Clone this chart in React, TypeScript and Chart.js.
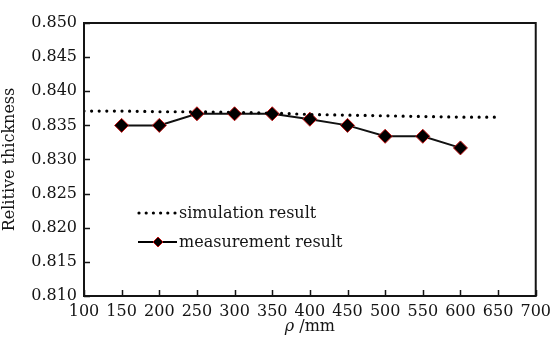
import React, { useEffect, useRef } from "react";
import { Chart, registerables } from "chart.js";

Chart.register(...registerables);

const rhoMeasure = [150, 200, 250, 300, 350, 400, 450, 500, 550, 600];
const measureValues = [0.835, 0.835, 0.8367, 0.8367, 0.8367, 0.8359, 0.835, 0.8334, 0.8334, 0.8317];
const rhoSim = [100, 150, 200, 250, 300, 350, 400, 450, 500, 550, 600, 650];
const simValues = [0.8371, 0.8371, 0.837, 0.837, 0.8369, 0.8368, 0.8366, 0.8365, 0.8364, 0.8363, 0.8362, 0.8362];
const legendLabels = ["simulation result", "measurement result"];
const xTitleSymbol = "ρ";
const xTitleUnit = " /mm";

const FONT = "'DejaVu Serif', serif";
const INK = "#141414";

const framePlugin = {
  id: "frame",
  afterDraw(chart: any) {
    const { ctx, chartArea } = chart;
    const { left, right, top, bottom } = chartArea;
    const xs = chart.scales.x;
    const ys = chart.scales.y;
    ctx.save();
    ctx.strokeStyle = INK;
    ctx.lineWidth = 2;
    ctx.strokeRect(left, top, right - left, bottom - top);
    ctx.lineWidth = 1.5;
    ctx.beginPath();
    xs.ticks.forEach((t: any) => {
      const px = Math.round(xs.getPixelForValue(t.value)) + 0.5;
      ctx.moveTo(px, bottom);
      ctx.lineTo(px, bottom - 6);
    });
    ys.ticks.forEach((t: any) => {
      const py = Math.round(ys.getPixelForValue(t.value)) + 0.5;
      ctx.moveTo(left, py);
      ctx.lineTo(left + 6, py);
    });
    ctx.stroke();

    // x title with italic rho
    ctx.fillStyle = INK;
    ctx.textBaseline = "middle";
    ctx.font = `italic 16px ${FONT}`;
    const w1 = ctx.measureText(xTitleSymbol).width;
    ctx.font = `16px ${FONT}`;
    const w2 = ctx.measureText(xTitleUnit).width;
    const cx = (left + right) / 2;
    const ty = 327;
    const sx = cx - (w1 + w2) / 2;
    ctx.font = `italic 16px ${FONT}`;
    ctx.fillText(xTitleSymbol, sx, ty);
    ctx.font = `16px ${FONT}`;
    ctx.fillText(xTitleUnit, sx + w1, ty);

    // legend
    const ds = chart.data.datasets;
    ctx.font = `16px ${FONT}`;
    ctx.fillStyle = INK;
    const y1 = 213;
    ctx.strokeStyle = "#000";
    ctx.lineWidth = 3.2;
    ctx.lineCap = "round";
    ctx.setLineDash([0, 7.2]);
    ctx.beginPath();
    ctx.moveTo(139, y1);
    ctx.lineTo(175, y1);
    ctx.stroke();
    ctx.setLineDash([]);
    ctx.lineCap = "butt";
    ctx.fillText(ds[0].label, 179, y1 + 1);
    const y2 = 242;
    ctx.lineWidth = 2;
    ctx.beginPath();
    ctx.moveTo(138, y2);
    ctx.lineTo(177, y2);
    ctx.stroke();
    const r = 5;
    ctx.beginPath();
    ctx.moveTo(158, y2 - r);
    ctx.lineTo(158 + r, y2);
    ctx.lineTo(158, y2 + r);
    ctx.lineTo(158 - r, y2);
    ctx.closePath();
    ctx.fillStyle = "#000";
    ctx.fill();
    ctx.strokeStyle = "#c01010";
    ctx.lineWidth = 1;
    ctx.stroke();
    ctx.fillStyle = INK;
    ctx.fillText(ds[1].label, 179, y2 + 1);
    ctx.restore();
  },
};

export default function App() {
  const ref = useRef<HTMLCanvasElement | null>(null);
  useEffect(() => {
    document.body.style.margin = "0";
    const canvas = ref.current;
    if (!canvas) return;
    const chart = new Chart(canvas, {
      type: "line",
      data: {
        datasets: [
          {
            label: legendLabels[0],
            data: rhoSim.map((x, i) => ({ x, y: simValues[i] })),
            borderColor: "#000",
            borderWidth: 3.2,
            borderDash: [0, 7.6],
            borderCapStyle: "round",
            pointRadius: 0,
            fill: false,
          },
          {
            label: legendLabels[1],
            data: rhoMeasure.map((x, i) => ({ x, y: measureValues[i] })),
            borderColor: "#111",
            borderWidth: 2,
            pointStyle: "rectRot",
            pointRadius: 7,
            pointBackgroundColor: "#000",
            pointBorderColor: "#c01010",
            pointBorderWidth: 1,
            fill: false,
          },
        ],
      },
      options: {
        animation: false,
        responsive: false,
        maintainAspectRatio: false,
        layout: { padding: { top: 23, right: 15, left: 0, bottom: 0 } },
        plugins: { legend: { display: false }, tooltip: { enabled: false } },
        scales: {
          x: {
            type: "linear",
            min: 100,
            max: 700,
            afterFit: (s: any) => { s.height = 46; },
            grid: { display: false, drawTicks: false },
            border: { display: true, color: INK, width: 2 },
            ticks: {
              stepSize: 50,
              color: INK,
              padding: 6,
              maxRotation: 0,
              autoSkip: false,
              font: { family: FONT, size: 16 },
            },
            title: { display: false },
          },
          y: {
            type: "linear",
            min: 0.81,
            max: 0.85,
            afterFit: (s: any) => { s.width = 84; },
            grid: { display: false, drawTicks: false },
            border: { display: true, color: INK, width: 2 },
            ticks: {
              stepSize: 0.005,
              color: INK,
              padding: 7,
              autoSkip: false,
              font: { family: FONT, size: 16 },
              callback: (v: any) => Number(v).toFixed(3),
            },
            title: {
              display: true,
              text: "Relitive thickness",
              color: INK,
              padding: { top: 0, bottom: 2 },
              font: { family: FONT, size: 16 },
            },
          },
        },
      },
      plugins: [framePlugin],
    } as any);
    return () => chart.destroy();
  }, []);
  return <canvas ref={ref} width={557} height={342} style={{ display: "block" }} />;
}
